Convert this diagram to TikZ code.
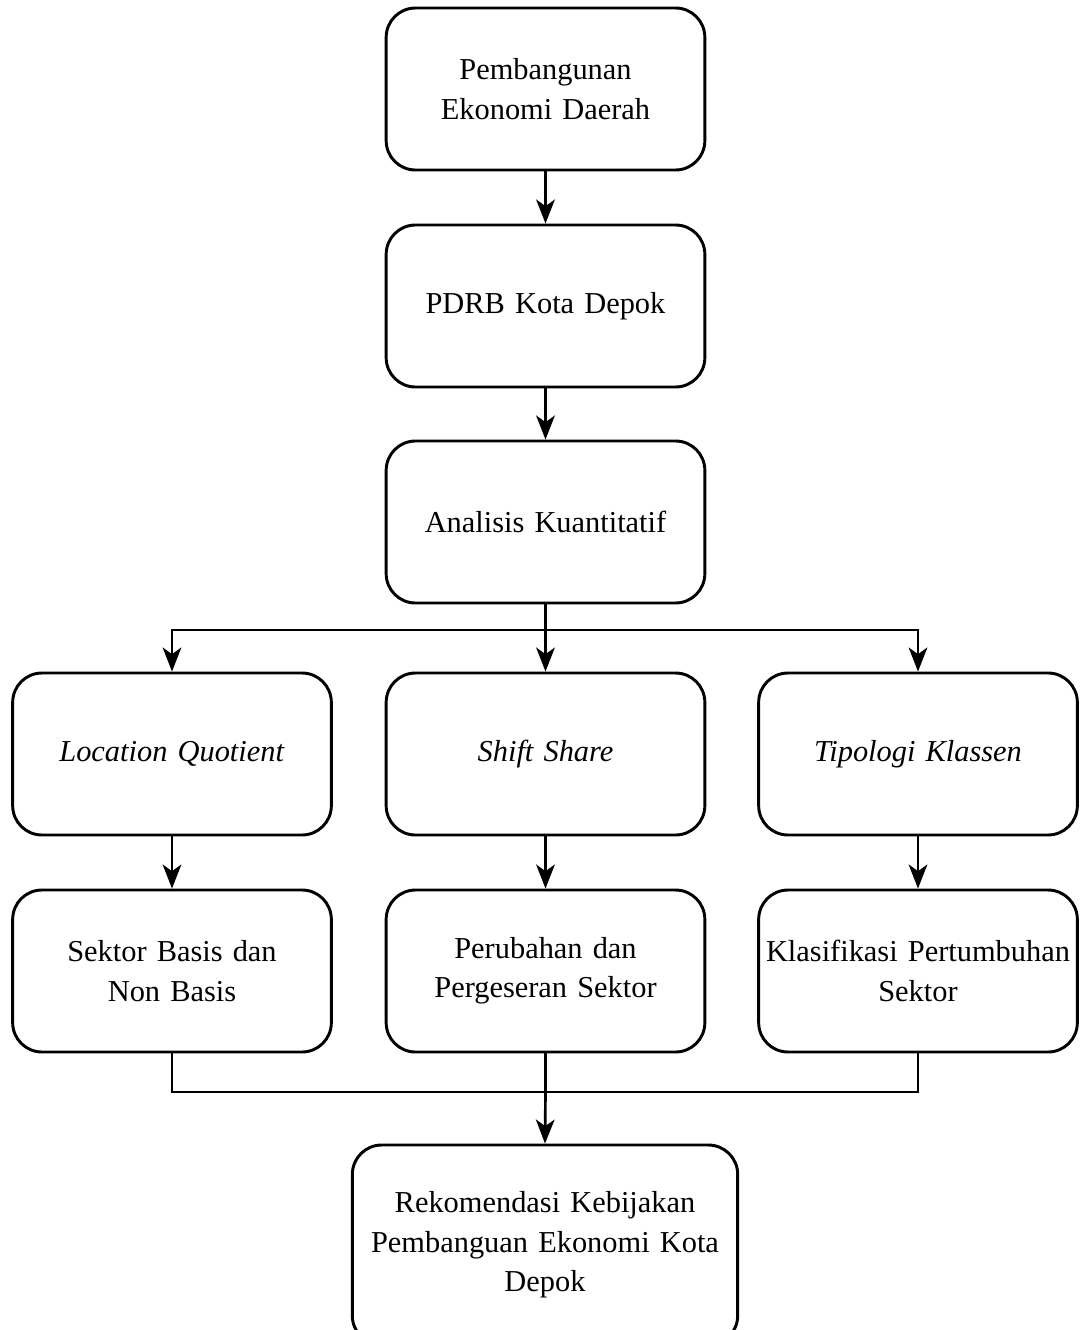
\documentclass[tikz,border=0pt]{standalone}
\usepackage{fontspec}
\setmainfont{Liberation Serif}
\usetikzlibrary{arrows.meta,positioning}
\newcommand{\myboxfont}{\fontsize{22.8}{29.5}\selectfont\spaceskip=4.3pt plus 1pt minus 1pt\relax}
\begin{document}
\begin{tikzpicture}[x=0.75pt,y=-0.75pt,
  box/.style={draw=black,line width=2.2pt,rounded corners=22pt,
    minimum width=239pt,minimum height=121.5pt,inner sep=0pt,
    align=center,font=\myboxfont,text width=236pt},
  arr/.style={line width=2pt,-{Stealth[length=18pt,width=14pt,inset=5pt]}},
  ln/.style={line width=2pt}]
\useasboundingbox (0,0) rectangle (1083,1330);
\begin{scope}
\clip (0,0) rectangle (1083,1330);
\node[box] (a) at (545.5,89) {Pembangunan\\Ekonomi Daerah};
\node[box] (b) at (545.5,306) {PDRB Kota Depok};
\node[box] (c) at (545.5,522) {Analisis Kuantitatif};
\node[box] (d1) at (172,754) {\textit{Location Quotient}};
\node[box] (d2) at (545.5,754) {\textit{Shift Share}};
\node[box] (d3) at (918,754) {\textit{Tipologi Klassen}};
\node[box] (e1) at (172,971) {Sektor Basis dan\\Non Basis};
\node[box] (e2) at (545.5,971) {Perubahan dan\\Pergeseran Sektor};
\node[box] (e3) at (918,971) {Klasifikasi Pertumbuhan\\Sektor};
\node[box,minimum width=289pt,minimum height=150pt,text width=285pt] (f) at (545,1245) {Rekomendasi Kebijakan\\Pembanguan Ekonomi Kota\\Depok};
\end{scope}
\coordinate (s) at (545.5,630);
\coordinate (m) at (545.5,1092);
\draw[arr] (a) -- (b);
\draw[arr] (b) -- (c);
\draw[ln] (c.south) -- (s);
\draw[arr] (s) -- (d2);
\draw[arr] (s) -| (d1);
\draw[arr] (s) -| (d3);
\draw[arr] (d1) -- (e1);
\draw[arr] (d2) -- (e2);
\draw[arr] (d3) -- (e3);
\draw[ln] (e1.south) |- (m);
\draw[ln] (e3.south) |- (m);
\draw[ln] (e2.south) -- (m);
\draw[arr] (m) -- (f.north);
\end{tikzpicture}
\end{document}
